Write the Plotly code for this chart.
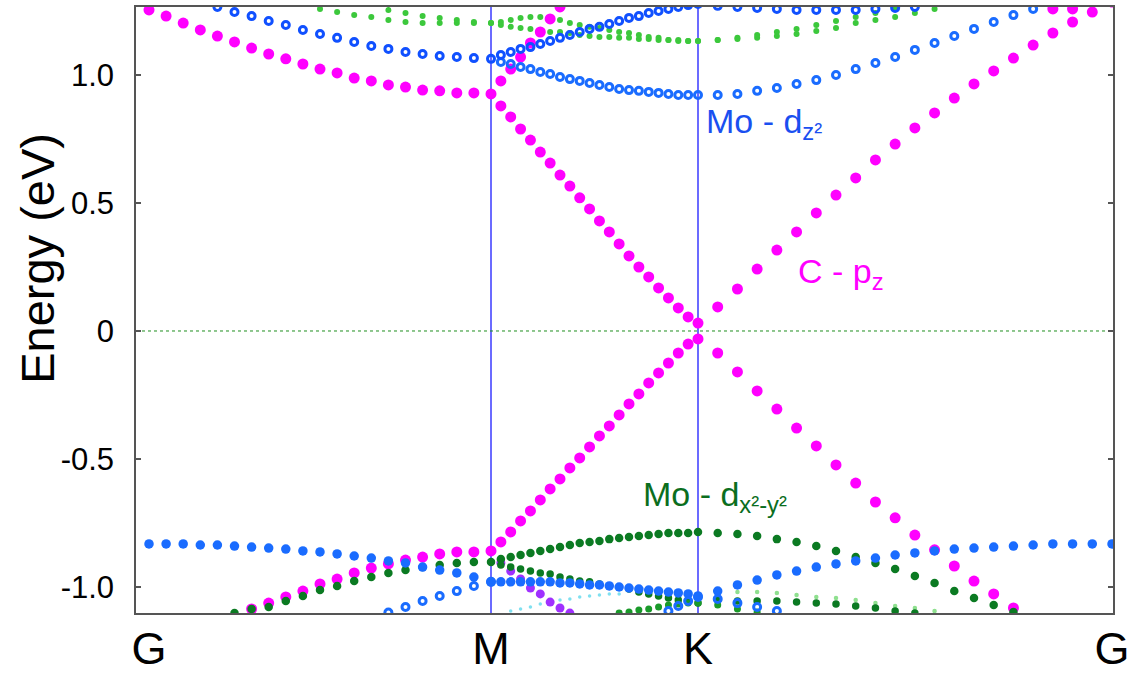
import numpy as np
import plotly.graph_objects as go

# ---------------- k-path ----------------
kpt_labels = ["G", "M", "K", "G"]
seg_len = [3.42, 2.07, 4.14]          # G-M, M-K, K-G path lengths (arb. units)
seg_intervals = [20, 21, 21]          # k-point intervals per segment

y_ticks = [-1.0, -0.5, 0.0, 0.5, 1.0]
y_ticktext = ["-1.0", "-0.5", "0", "0.5", "1.0"]

N = None
# ---------------- bands (eV), 21 pts G-M (from G), 21 pts M-K, 21 pts K-G -------------
# C - pz (graphene Dirac bands)
cpz_upper = ([1.254, 1.230, 1.203, 1.176, 1.152, 1.129, 1.105, 1.082, 1.063, 1.043, 1.023,
              1.008, 0.988, 0.977, 0.961, 0.953, 0.941, 0.938, 0.930, 0.930, 0.926] +
             [0.879, 0.836, 0.789, 0.746, 0.699, 0.656, 0.609, 0.566, 0.520, 0.477, 0.430,
              0.387, 0.340, 0.293, 0.250, 0.211, 0.168, 0.129, 0.090, 0.055, 0.031] +
             [0.094, 0.164, 0.242, 0.316, 0.387, 0.461, 0.531, 0.598, 0.668, 0.730, 0.793,
              0.852, 0.910, 0.965, 1.016, 1.066, 1.117, 1.164, 1.207, 1.246, 1.285])
cpz_lower = ([N, N, N, N, N, N, -1.086, -1.063, -1.039, -1.016, -0.988, -0.969, -0.945,
              -0.926, -0.910, -0.895, -0.883, -0.871, -0.863, -0.863, -0.859] +
             [-0.824, -0.785, -0.742, -0.703, -0.660, -0.617, -0.578, -0.535, -0.496, -0.453,
              -0.410, -0.371, -0.328, -0.285, -0.246, -0.203, -0.164, -0.125, -0.086, -0.051,
              -0.031] +
             [-0.086, -0.160, -0.234, -0.305, -0.379, -0.449, -0.523, -0.594, -0.668, -0.730,
              -0.797, -0.855, -0.918, -0.977, -1.027, -1.082, N, N, N, N, N])
cpz_third = ([N] * 21 +
             [0.977, 1.023, 1.070, 1.125, 1.168, 1.219, 1.266] + [N] * 14 +
             [N] * 17 + [1.258, 1.258, N, N])

# Mo - dz2
dz2_a = ([N, N, N, N, 1.266, 1.246, 1.230, 1.211, 1.195, 1.176, 1.160, 1.145, 1.129, 1.113,
          1.102, 1.090, 1.082, 1.074, 1.070, 1.066, 1.063] +
         [1.078, 1.090, 1.102, 1.109, 1.121, 1.133, 1.145, 1.156, 1.168, 1.180, 1.188, 1.199,
          1.211, 1.223, 1.230, 1.242, 1.250, 1.258, 1.266, 1.273, 1.277] +
         [1.270, 1.266, 1.262, 1.258, 1.254, 1.254, 1.254, 1.254, 1.258, 1.262, 1.266] + [N] * 10)
dz2_b = ([N] * 21 +
         [1.051, 1.043, 1.031, 1.023, 1.012, 1.004, 0.992, 0.984, 0.977, 0.969, 0.961, 0.953,
          0.945, 0.941, 0.938, 0.934, 0.930, 0.926, 0.922, 0.922, 0.922] +
         [0.922, 0.926, 0.938, 0.949, 0.965, 0.980, 1.000, 1.023, 1.047, 1.070, 1.098, 1.125,
          1.152, 1.180, 1.207, 1.234, 1.258, N, N, N, N])
dz2_c = ([-0.832, -0.832, -0.832, -0.836, -0.836, -0.840, -0.844, -0.848, -0.852, -0.859,
          -0.863, -0.871, -0.879, -0.887, -0.898, -0.906, -0.922, -0.934, -0.945, -0.961,
          -0.980] +
         [-0.980, -0.980, -0.980, -0.980, -0.980, -0.980, -0.984, -0.984, -0.988, -0.992,
          -0.992, -0.996, -1.000, -1.004, -1.008, -1.012, -1.016, -1.020, -1.023, -1.027,
          -1.035] +
         [-1.016, -0.992, -0.973, -0.953, -0.938, -0.922, -0.910, -0.898, -0.887, -0.875,
          -0.867, -0.859, -0.852, -0.848, -0.844, -0.840, -0.836, -0.832, -0.832, -0.832,
          -0.832])
dz2_d = ([N] * 14 + [-1.100, -1.078, -1.055, -1.035, -1.016, -0.996, -0.980] +
         [N] * 17 + [-1.094, -1.074, -1.055, -1.039] +
         [-1.047, -1.063, -1.078, -1.094] + [N] * 17)

# Mo - dx2-y2 (dark green)
dx2_a = ([N, N, N, N, N, -1.102, -1.086, -1.078, -1.055, -1.035, -1.012, -0.996, -0.977,
          -0.961, -0.945, -0.934, -0.922, -0.914, -0.906, -0.902, -0.902] +
         [-0.891, -0.883, -0.875, -0.867, -0.859, -0.852, -0.844, -0.836, -0.828, -0.824,
          -0.820, -0.813, -0.809, -0.805, -0.801, -0.797, -0.793, -0.789, -0.789, -0.789,
          -0.785] +
         [-0.789, -0.793, -0.801, -0.813, -0.824, -0.840, -0.859, -0.883, -0.906, -0.930,
          -0.957, -0.984, -1.016, -1.043, -1.070, -1.098, N, N, N, N, N])
dx2_b = ([N] * 21 +
         [-0.914, -0.922, -0.930, -0.938, -0.945, -0.949, -0.961, -0.969, -0.977, -0.980,
          -0.988, -0.996, -1.000, -1.008, -1.020, -1.027, -1.035, -1.043, -1.051, -1.055,
          -1.063] +
         [-1.051, -1.055, -1.055, -1.055, -1.059, -1.063, -1.066, -1.074, -1.082, -1.094,
          -1.102] + [N] * 10)
dx2_c = ([N] * 21 +
         [N] * 12 + [-1.102, -1.098, -1.090, -1.086, -1.078, -1.070, -1.066, -1.063, -1.063] +
         [-1.070, -1.086, -1.098] + [N] * 18)

# Mo - d (light green, weak weight)
mo_up_a = ([N] * 10 + [1.258, 1.246, 1.234, 1.227, 1.215, 1.207, 1.203, 1.203, 1.203, 1.203,
                       1.203] +
           [1.195, 1.188, 1.184, 1.180, 1.176, 1.168, 1.168, 1.164, 1.156, 1.152, 1.148,
            1.148, 1.145, 1.145, 1.141, 1.141, 1.137, 1.137, 1.133, 1.133, 1.133] +
           [1.137, 1.141, 1.145, 1.152, 1.160, 1.172, 1.184, 1.203, 1.215, 1.227, 1.242,
            1.258] + [N] * 9)
mo_up_b = ([N] * 14 + [1.254, 1.242, 1.230, 1.223, 1.215, 1.207, 1.203] +
           [1.207, 1.215, 1.223, 1.227, 1.227, 1.223, 1.215, 1.203, 1.195, 1.188, 1.184,
            1.176, 1.168, 1.164, 1.156, 1.148, 1.145, 1.137, 1.137, 1.133, 1.133] +
           [1.137, 1.145, 1.156, 1.168, 1.180, 1.195, 1.211, 1.227, 1.242, 1.258] + [N] * 11)
mo_low_light = ([N] * 21 + [N] * 21 +
                [-1.020, -1.020, -1.020, -1.023, -1.031, -1.039, -1.043, -1.051, -1.063,
                 -1.074, -1.082, -1.094] + [N] * 9)
mix_purple = ([N] * 21 +
              [-0.906, -0.938, -0.969, -1.004, -1.027, -1.059, -1.082, -1.102] + [N] * 13 +
              [N] * 21)
mix_cyan = ([N] * 21 +
            [N, -1.094, -1.086, -1.078, -1.066, -1.063, -1.051, -1.047, -1.039, -1.035,
             -1.031, -1.027, -1.027] + [N] * 8 +
            [N] * 21)

# ---------------- k coordinates ----------------
k_nodes = np.concatenate([[0.0], np.cumsum(seg_len)])
k = np.concatenate([
    k_nodes[0] + np.arange(0, seg_intervals[0] + 1) * seg_len[0] / seg_intervals[0],
    k_nodes[1] + np.arange(1, seg_intervals[1] + 1) * seg_len[1] / seg_intervals[1],
    k_nodes[2] + np.arange(1, seg_intervals[2] + 1) * seg_len[2] / seg_intervals[2],
])

MAGENTA = "#ff00ff"
BLUE = "#1a6cff"
BLUE_D = "#1050ff"
DGREEN = "#0b7a22"
LGREEN = "#3cc83c"

fig = go.Figure()


def add(band, color, size, symbol="circle", lw=0.0):
    fig.add_trace(go.Scatter(
        x=k, y=band, mode="markers", showlegend=False, hoverinfo="skip",
        marker=dict(color=color, size=size, symbol=symbol,
                    line=dict(width=lw, color=color)),
    ))


# weak / light bands first
add(mix_cyan, "#7fe0f0", 3.5)
add(mo_low_light, "#8fe08f", 4.5)
add(mo_up_a, LGREEN, 6)
add(mo_up_b, LGREEN, 6)
# C - pz
add(cpz_lower, MAGENTA, 11)
add(cpz_upper, MAGENTA, 11)
add(cpz_third, MAGENTA, 11)
add(mix_purple, "#a030ff", 9)
# Mo - dx2-y2
add(dx2_a, DGREEN, 8.5)
add(dx2_b, DGREEN, 7.5)
add(dx2_c, "#1a9a2a", 7)
# Mo - dz2
add(dz2_c, BLUE, 9.5)
add(dz2_d, BLUE, 7, "circle-open", 3)
add(dz2_b, BLUE, 7, "circle-open", 3)
add(dz2_a, BLUE_D, 7, "circle-open", 3)

FONT = "Liberation Sans, Arial, sans-serif"

# high-symmetry vertical lines (M, K) and Fermi level
shapes = []
for kv in k_nodes[1:3]:
    shapes.append(dict(type="line", xref="x", yref="paper", x0=kv, x1=kv, y0=0, y1=1,
                       line=dict(color="#3a3aff", width=1.5), layer="below"))
shapes.append(dict(type="line", xref="paper", yref="y", x0=0, x1=1, y0=0, y1=0,
                   line=dict(color="#1f8f1f", width=1, dash="dot"), layer="below"))

annotations = [
    dict(text="Mo - d<sub>z²</sub>", x=5.55, y=0.81, xref="x", yref="y",
         xanchor="left", yanchor="middle", showarrow=False,
         font=dict(family=FONT, size=34, color="#1a4ff0")),
    dict(text="C - p<sub>z</sub>", x=6.47, y=0.225, xref="x", yref="y",
         xanchor="left", yanchor="middle", showarrow=False,
         font=dict(family=FONT, size=34, color=MAGENTA)),
    dict(text="Mo - d<sub>x²-y²</sub>", x=4.92, y=-0.645, xref="x", yref="y",
         xanchor="left", yanchor="middle", showarrow=False,
         font=dict(family=FONT, size=34, color="#0b6e1e")),
    dict(text="Energy (eV)", x=-0.101, y=0.585, xref="paper", yref="paper",
         xanchor="center", yanchor="middle", textangle=-90, showarrow=False,
         font=dict(family=FONT, size=47, color="black")),
]

fig.update_layout(
    width=1133, height=674,
    margin=dict(l=136, r=20, t=7, b=61, autoexpand=False),
    paper_bgcolor="white", plot_bgcolor="white",
    font=dict(family=FONT, color="black"),
    shapes=shapes, annotations=annotations,
    xaxis=dict(range=[-0.13, k_nodes[-1] + 0.01], showgrid=False, zeroline=False,
               showline=True, linecolor="#555555", linewidth=1.5, mirror=True,
               ticks="", tickvals=list(k_nodes), ticktext=kpt_labels,
               tickfont=dict(size=45, family=FONT, color="black"),
               ticklabelstandoff=-5, automargin=False),
    yaxis=dict(range=[-1.1016, 1.2656], showgrid=False, zeroline=False,
               showline=True, linecolor="#555555", linewidth=1.5, mirror="ticks",
               ticks="inside", ticklen=5, tickwidth=1.5, tickcolor="#555555",
               tickvals=y_ticks, ticktext=y_ticktext,
               tickfont=dict(size=31, family=FONT, color="black"),
               ticklabelstandoff=14, automargin=False),
)

fig.write_html("out.html")
